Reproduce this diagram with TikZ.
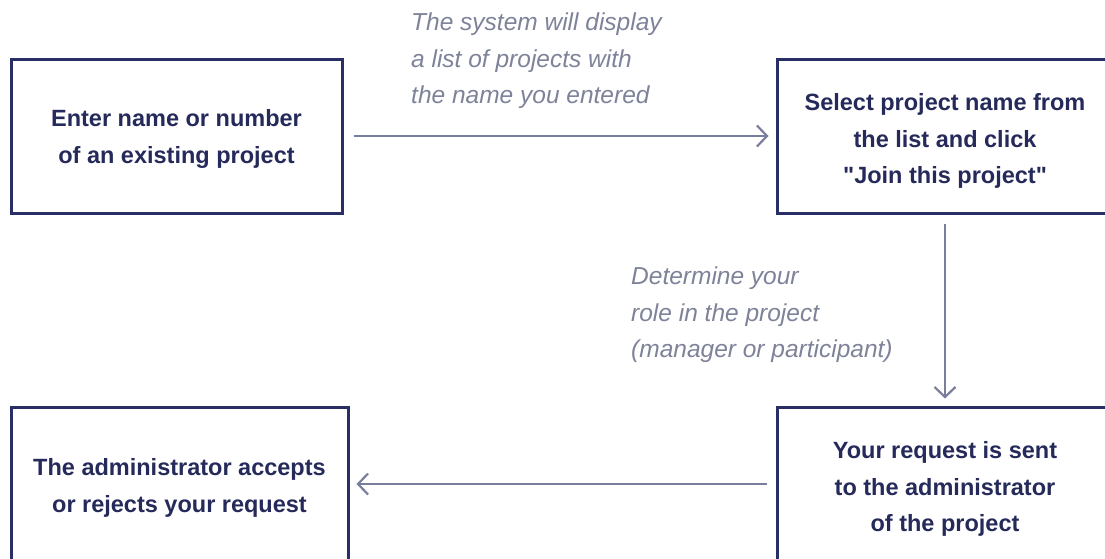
\documentclass[tikz,border=0pt]{standalone}
\usepackage{fontspec}
\setmainfont{Liberation Sans}[Ligatures=TeXOff]
\usetikzlibrary{arrows.meta}
\definecolor{boxline}{HTML}{2A2E66}
\definecolor{boxtext}{HTML}{252A5A}
\definecolor{flow}{HTML}{7A7E9E}
\definecolor{note}{HTML}{7E8399}
\tikzset{
  stepbox/.style={draw=boxline, line width=3pt, rectangle, inner sep=0pt},
  steptext/.style={align=center, text=boxtext, inner sep=0pt,
    font=\fontsize{23.5}{36.5}\selectfont\bfseries},
  flowline/.style={draw=flow, line width=2.5pt,
    -{Straight Barb[length=10pt,width=21pt,line width=2.2pt]}},
  notetext/.style={text=note, align=left, anchor=north west, inner sep=0pt,
    font=\fontsize{24.5}{36.5}\selectfont\itshape}
}
\begin{document}
\begin{tikzpicture}[x=1pt,y=-1pt]
\useasboundingbox (0,0) rectangle (1105,558);
\clip (0,0) rectangle (1105,558);
\fill[white] (0,0) rectangle (1105,558);

% the four step boxes
\node[stepbox, minimum width=331pt, minimum height=154pt] (enter) at (176.5,136) {};
\node[stepbox, minimum width=336pt, minimum height=154pt] (select) at (945,136) {};
\node[stepbox, minimum width=336pt, minimum height=160pt] (sent) at (945,487) {};
\node[stepbox, minimum width=337pt, minimum height=160pt] (admin) at (179.5,487) {};

% their captions
\node[steptext] (enterT) at ([yshift=-3pt]enter.center)
  {Enter name or number\\of an existing project};
\node[steptext] (selectT) at ([yshift=-5pt]select.center)
  {Select project name from\\the list and click\\"Join this project"};
\node[steptext] (sentT) at ([yshift=-2pt]sent.center)
  {Your request is sent\\to the administrator\\of the project};
\node[steptext] (adminT) at ([yshift=-1pt]admin.center)
  {The administrator accepts\\or rejects your request};

% flow between the steps
\draw[flowline, shorten <=10pt, shorten >=7pt] (enter.east) -- (select.west);
\draw[flowline, shorten <=9pt, shorten >=7pt] (select.south) -- (sent.north);
\draw[flowline, shorten <=9pt, shorten >=7pt] ([yshift=3pt]sent.west) -- ([yshift=3pt]sent.west -| admin.east);

% notes beside the arrows
\node[notetext] (note1) at (411,13)
  {The system will display\\a list of projects with\\the name you entered};
\node[notetext] (note2) at (631,267)
  {Determine your\\role in the project\\(manager or participant)};
\end{tikzpicture}
\end{document}
